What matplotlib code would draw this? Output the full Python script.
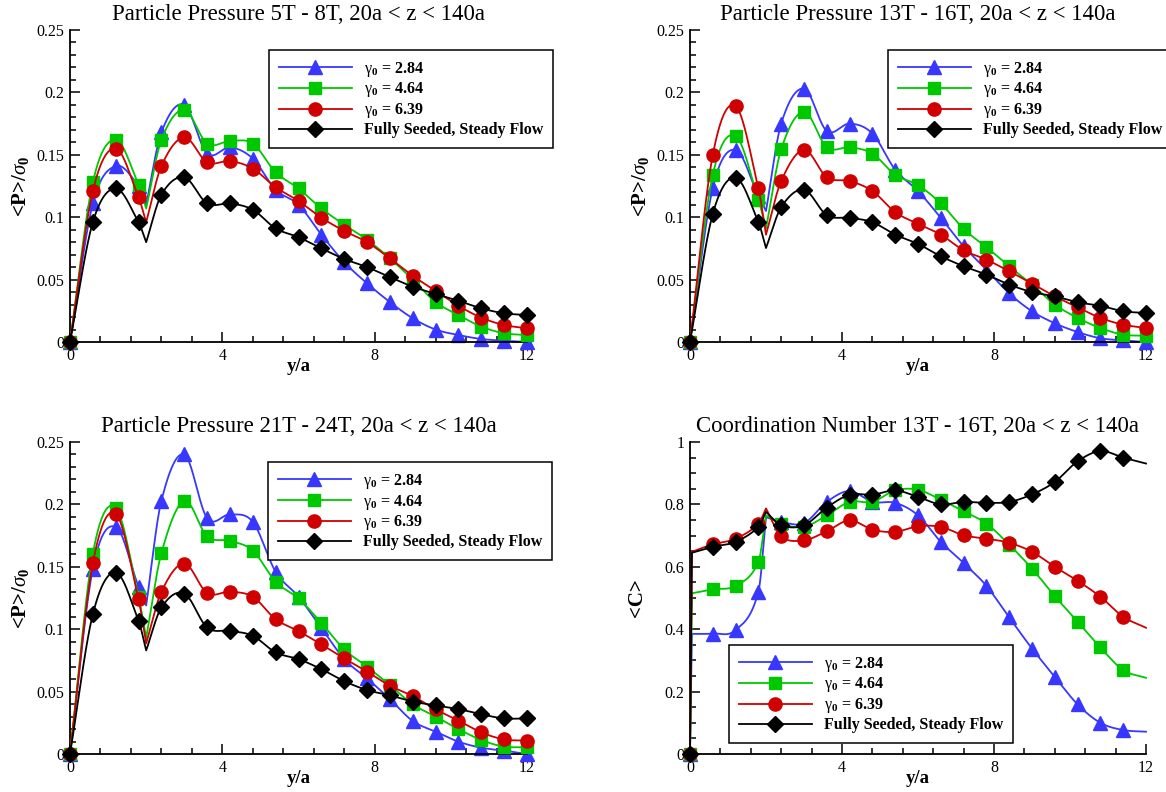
import numpy as np
import matplotlib
matplotlib.use("Agg")
import matplotlib.pyplot as plt
from matplotlib.lines import Line2D
from matplotlib.ticker import MultipleLocator, FuncFormatter

plt.rcParams['font.family'] = ['Liberation Serif', 'DejaVu Serif']
plt.rcParams['mathtext.fontset'] = 'custom'
plt.rcParams['mathtext.rm'] = 'Liberation Serif'
plt.rcParams['mathtext.it'] = 'Liberation Serif:italic'
plt.rcParams['mathtext.bf'] = 'Liberation Serif:bold'

# ---------------- data ----------------
y_over_a = [0.0, 0.6, 1.2, 1.8, 2.4, 3.0, 3.6, 4.2, 4.8, 5.4, 6.0,
            6.6, 7.2, 7.8, 8.4, 9.0, 9.6, 10.2, 10.8, 11.4, 12.0]
series_labels = [r'$\mathrm{\gamma}_\mathbf{0}$ = 2.84',
                 r'$\mathrm{\gamma}_\mathbf{0}$ = 4.64',
                 r'$\mathrm{\gamma}_\mathbf{0}$ = 6.39',
                 'Fully Seeded, Steady Flow']
titles = ['Particle Pressure 5T - 8T, 20a < z < 140a',
          'Particle Pressure 13T - 16T, 20a < z < 140a',
          'Particle Pressure 21T - 24T, 20a < z < 140a',
          'Coordination Number 13T - 16T, 20a < z < 140a']

# Panel 1: particle pressure 5T-8T
p1_g284 = [0, 0.111, 0.141, 0.125, 0.168, 0.190, 0.151, 0.156, 0.147, 0.122, 0.110,
           0.086, 0.064, 0.047, 0.032, 0.019, 0.010, 0.0056, 0.0024, 0.001, 0.0]
p1_g464 = [0, 0.128, 0.162, 0.126, 0.162, 0.186, 0.159, 0.161, 0.159, 0.136, 0.123,
           0.107, 0.094, 0.082, 0.067, 0.050, 0.032, 0.0216, 0.0123, 0.007, 0.0056]
p1_g639 = [0, 0.121, 0.155, 0.116, 0.141, 0.164, 0.144, 0.145, 0.139, 0.124, 0.113,
           0.0996, 0.089, 0.080, 0.067, 0.053, 0.041, 0.029, 0.0195, 0.0136, 0.011]
p1_seed = [0, 0.096, 0.123, 0.096, 0.118, 0.132, 0.111, 0.111, 0.106, 0.091, 0.084,
           0.075, 0.0665, 0.060, 0.052, 0.0443, 0.0385, 0.033, 0.027, 0.023, 0.0216]
p1_dip = [0.110, 0.107, 0.096, 0.080]          # unmarked minimum at y/a = 2.0

# Panel 2: particle pressure 13T-16T
p2_g284 = [0, 0.1235, 0.154, 0.117, 0.175, 0.203, 0.169, 0.175, 0.167, 0.138, 0.121,
           0.0995, 0.0767, 0.058, 0.039, 0.0246, 0.015, 0.008, 0.003, 0.0013, 0.0]
p2_g464 = [0, 0.134, 0.165, 0.114, 0.1545, 0.1845, 0.156, 0.156, 0.151, 0.134, 0.1257,
           0.111, 0.0906, 0.076, 0.0607, 0.046, 0.030, 0.0193, 0.0112, 0.0059, 0.005]
p2_g639 = [0, 0.150, 0.189, 0.123, 0.129, 0.154, 0.132, 0.129, 0.121, 0.104, 0.0947,
           0.086, 0.0735, 0.066, 0.0567, 0.0468, 0.0366, 0.0278, 0.0193, 0.0139, 0.0112]
p2_seed = [0, 0.1027, 0.1316, 0.096, 0.108, 0.122, 0.1016, 0.0995, 0.096, 0.086, 0.0786,
           0.0687, 0.0607, 0.054, 0.046, 0.040, 0.0366, 0.0318, 0.029, 0.0246, 0.0233]
p2_dip = [0.105, 0.091, 0.086, 0.0753]

# Panel 3: particle pressure 21T-24T
p3_g284 = [0, 0.1486, 0.182, 0.134, 0.203, 0.240, 0.189, 0.192, 0.186, 0.146, 0.126,
           0.101, 0.076, 0.0606, 0.044, 0.0264, 0.0179, 0.0099, 0.005, 0.0027, 0.0]
p3_g464 = [0, 0.1606, 0.1974, 0.126, 0.161, 0.2028, 0.1745, 0.1708, 0.163, 0.138, 0.1246,
           0.105, 0.0838, 0.070, 0.0552, 0.0398, 0.030, 0.020, 0.0112, 0.0059, 0.0055]
p3_g639 = [0, 0.153, 0.1926, 0.124, 0.130, 0.1526, 0.129, 0.130, 0.126, 0.108, 0.0985,
           0.0878, 0.0766, 0.066, 0.0547, 0.0464, 0.0358, 0.0267, 0.0173, 0.0117, 0.0107]
p3_seed = [0, 0.112, 0.1454, 0.1067, 0.1174, 0.1286, 0.1014, 0.0987, 0.0947, 0.0814, 0.076,
           0.068, 0.0584, 0.0512, 0.047, 0.042, 0.039, 0.036, 0.0318, 0.0285, 0.0285]
p3_dip = [0.119, 0.093, 0.0886, 0.083]

# Panel 4: coordination number 13T-16T (markers up to y/a = 11.4)
c_g284 = [0, 0.386, 0.397, 0.520, 0.744, 0.740, 0.808, 0.843, 0.808, 0.805, 0.765,
          0.680, 0.6126, 0.539, 0.4376, 0.338, 0.2476, 0.159, 0.100, 0.0768]
c_g464 = [0, 0.528, 0.539, 0.616, 0.738, 0.728, 0.765, 0.808, 0.808, 0.845, 0.847,
          0.815, 0.778, 0.7385, 0.671, 0.594, 0.506, 0.424, 0.3415, 0.269]
c_g639 = [0, 0.672, 0.690, 0.738, 0.698, 0.685, 0.714, 0.749, 0.719, 0.712, 0.730,
          0.728, 0.701, 0.690, 0.677, 0.648, 0.600, 0.555, 0.504, 0.440]
c_seed = [0, 0.664, 0.680, 0.728, 0.733, 0.733, 0.790, 0.831, 0.831, 0.845, 0.824,
          0.800, 0.808, 0.805, 0.808, 0.832, 0.872, 0.938, 0.971, 0.950]
c_wall = [0.385, 0.515, 0.648, 0.645]   # unmarked value just off the wall (y/a = 0.05)
c_peak = [0.759, 0.765, 0.787, 0.776]   # unmarked cusp at y/a = 2.0
c_end = [0.0715, 0.244, 0.4045, 0.931]  # unmarked end point at y/a = 12

# ---------------- style ----------------
colors = ['#3737ff', '#00c800', '#d00000', '#000000']
markers = ['^', 's', 'o', 'D']
msizes = [9.5, 8.5, 9.5, 8.5]

W, H = 1166, 792
fig = plt.figure(figsize=(W / 100, H / 100), dpi=100)


def add_axes_px(l, t, r, b):
    return fig.add_axes([l / W, 1 - b / H, (r - l) / W, (b - t) / H])


def hermite(xs, ys, n=24):
    xs = np.asarray(xs, float)
    ys = np.asarray(ys, float)
    if len(xs) == 2:
        return xs, ys
    m = np.empty_like(ys)
    m[1:-1] = (ys[2:] - ys[:-2]) / (xs[2:] - xs[:-2])
    m[0] = (ys[1] - ys[0]) / (xs[1] - xs[0])
    m[-1] = (ys[-1] - ys[-2]) / (xs[-1] - xs[-2])
    X, Y = [], []
    t = np.linspace(0, 1, n)
    for i in range(len(xs) - 1):
        h = xs[i + 1] - xs[i]
        h00 = 2 * t**3 - 3 * t**2 + 1
        h10 = t**3 - 2 * t**2 + t
        h01 = -2 * t**3 + 3 * t**2
        h11 = t**3 - t**2
        X.append(xs[i] + t * h)
        Y.append(h00 * ys[i] + h10 * h * m[i] + h01 * ys[i + 1] + h11 * h * m[i + 1])
    return np.concatenate(X), np.concatenate(Y)


def curve(xm, ym, extra, breaks):
    pts = sorted(list(zip(xm, ym)) + extra)
    xs = np.array([p[0] for p in pts])
    ys = np.array([p[1] for p in pts])
    cuts = [0] + [int(np.argmin(np.abs(xs - b))) for b in breaks] + [len(xs) - 1]
    X, Y = [], []
    for a, b in zip(cuts[:-1], cuts[1:]):
        cx, cy = hermite(xs[a:b + 1], ys[a:b + 1])
        X.append(cx)
        Y.append(cy)
    return np.concatenate(X), np.concatenate(Y)


def style_axes(ax, ymax, ymajor, yminor, title, ylabel, ylab_x):
    ax.set_xlim(0, 12)
    ax.set_ylim(0, ymax)
    for s in ['top', 'right']:
        ax.spines[s].set_visible(False)
    for s in ['left', 'bottom']:
        ax.spines[s].set_linewidth(1.3)
    ax.xaxis.set_major_locator(MultipleLocator(4))
    ax.xaxis.set_minor_locator(MultipleLocator(0.8))
    ax.yaxis.set_major_locator(MultipleLocator(ymajor))
    ax.yaxis.set_minor_locator(MultipleLocator(yminor))
    fmt = FuncFormatter(lambda v, p: f'{v:g}')
    ax.yaxis.set_major_formatter(fmt)
    ax.xaxis.set_major_formatter(fmt)
    ax.tick_params(which='both', direction='in', labelsize=11.5, pad=4, width=1.1)
    ax.tick_params(which='major', length=7)
    ax.tick_params(which='minor', length=4)
    ax.set_title(title, fontsize=16.4, pad=7)
    ax.set_xlabel('y/a', fontsize=13.5, fontweight='bold')
    ax.xaxis.set_label_coords(0.5, -0.05)
    ax.set_ylabel(ylabel, fontsize=15, fontweight='bold')
    ax.yaxis.set_label_coords(ylab_x, 0.5)


def add_legend(ax, x0, y0):
    handles = [Line2D([], [], color=c, marker=mk, markersize=ms, lw=1.3,
                      markeredgecolor=c) for c, mk, ms in zip(colors, markers, msizes)]
    leg = ax.legend(handles, series_labels, loc='upper left',
                    bbox_to_anchor=(x0 / W, 1 - y0 / H), bbox_transform=fig.transFigure,
                    borderaxespad=0, prop={'weight': 'bold', 'size': 11.5},
                    handlelength=4.6, handletextpad=0.75, labelspacing=0.12,
                    borderpad=0.6, numpoints=1, fancybox=False, framealpha=1,
                    edgecolor='black')
    leg.get_frame().set_linewidth(1.1)


pressure_panels = [
    ((70, 30, 527, 342), [p1_g284, p1_g464, p1_g639, p1_seed], p1_dip, (269, 50)),
    ((690, 30, 1146, 342), [p2_g284, p2_g464, p2_g639, p2_seed], p2_dip, (888, 50)),
    ((70, 442, 527, 754), [p3_g284, p3_g464, p3_g639, p3_seed], p3_dip, (268, 462)),
]

for k, (box, data, dips, legpos) in enumerate(pressure_panels):
    ax = add_axes_px(*box)
    for i in range(4):
        cx, cy = curve(y_over_a, data[i], [(2.0, dips[i])], [2.0])
        ax.plot(cx, cy, color=colors[i], lw=1.3, clip_on=False, zorder=2 + i)
        ax.plot(y_over_a, data[i], ls='none', marker=markers[i], ms=msizes[i],
                color=colors[i], mec=colors[i], clip_on=False, zorder=2 + i)
    style_axes(ax, 0.25, 0.05, 0.01, titles[k], r'<P>/$\sigma_\mathbf{0}$', -0.085)
    add_legend(ax, *legpos)

# coordination number panel
ax = add_axes_px(690, 442, 1146, 754)
c_data = [c_g284, c_g464, c_g639, c_seed]
xm = y_over_a[:len(c_g284)]
for i in range(4):
    extra = [(0.05, c_wall[i]), (2.0, c_peak[i]), (12.0, c_end[i])]
    cx, cy = curve(xm, c_data[i], extra, [0.05, 2.0])
    ax.plot(cx, cy, color=colors[i], lw=1.3, clip_on=False, zorder=2 + i)
    ax.plot(xm, c_data[i], ls='none', marker=markers[i], ms=msizes[i],
            color=colors[i], mec=colors[i], clip_on=False, zorder=2 + i)
style_axes(ax, 1.0, 0.2, 0.05, titles[3], '<C>', -0.095)
add_legend(ax, 729, 645)

fig.savefig('out.png', dpi=100)
